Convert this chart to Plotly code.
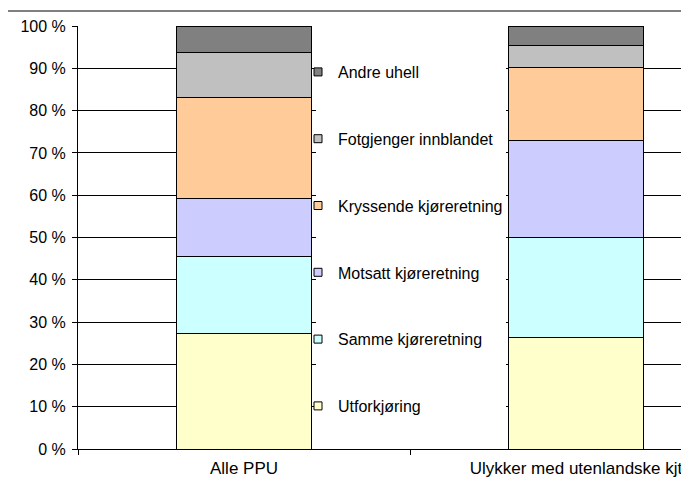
import plotly.graph_objects as go

categories = ["Alle PPU", "Ulykker med utenlandske kjt"]
series_names = ["Utforkjøring", "Samme kjøreretning", "Motsatt kjøreretning",
                "Kryssende kjøreretning", "Fotgjenger innblandet", "Andre uhell"]
utforkjoring = [27.4, 26.4]
samme = [18.2, 23.6]
motsatt = [13.7, 23.0]
kryssende = [23.7, 17.1]
fotgjenger = [10.8, 5.2]
andre = [6.2, 4.7]
series_values = [utforkjoring, samme, motsatt, kryssende, fotgjenger, andre]
colors = ["#FFFFCC", "#CCFFFF", "#CCCCFF", "#FFCC99", "#C0C0C0", "#808080"]
y_ticks = list(range(0, 101, 10))

FONT = "Liberation Sans, Arial, sans-serif"
fig = go.Figure()
for name, vals, col in zip(series_names, series_values, colors):
    fig.add_trace(go.Bar(x=categories, y=vals, name=name,
                         marker=dict(color=col, line=dict(color="black", width=1)),
                         showlegend=False))
# legend entries (top to bottom: last series first)
for name, col in list(zip(series_names, colors))[::-1]:
    fig.add_trace(go.Scatter(x=[None], y=[None], mode="markers", name=name, legendgroup=name,
                             marker=dict(symbol="square", size=8, color=col,
                                         line=dict(color="black", width=1))))

OFF = 8  # page body margin
W, H = 689 - OFF, 483 - OFF
L, R, T, B = 70, 0, 18, 34
pw, ph = W - L - R, H - T - B


def px2x(page_x):
    return (page_x - OFF - L) / pw


def py2y(page_y):
    return (H - B - (page_y - OFF)) / ph


fig.update_layout(
    width=W, height=H, margin=dict(l=L, r=R, t=T, b=B),
    paper_bgcolor="white", plot_bgcolor="white",
    barmode="stack", bargap=0.595,
    font=dict(family=FONT, size=16, color="black"),
    legend=dict(x=px2x(298), xanchor="left", y=py2y(55), yanchor="top",
                traceorder="grouped", tracegroupgap=43,
                bgcolor="rgba(0,0,0,0)", font=dict(size=16)),
    xaxis=dict(type="category", range=[-0.5, -0.5 + pw / 332], tickson="boundaries",
               ticks="outside", ticklen=5, tickcolor="black", showline=True, linecolor="black",
               showgrid=False, tickfont=dict(size=17), ticklabelstandoff=4),
    yaxis=dict(range=[0, 100], tickvals=y_ticks, ticktext=[f"{v} %" for v in y_ticks],
               ticks="outside", ticklen=5, tickcolor="black", showline=True, linecolor="black",
               showgrid=True, gridcolor="black", gridwidth=1, zeroline=False,
               ticklabelstandoff=3),
    shapes=[
        dict(type="rect", xref="paper", yref="paper", x0=px2x(316), x1=px2x(506),
             y0=0.004, y1=0.996, fillcolor="white", line=dict(width=0), layer="above"),
        dict(type="line", xref="paper", yref="paper", x0=px2x(8), x1=1,
             y0=py2y(11), y1=py2y(11), line=dict(color="black", width=1)),
    ],
)
fig.write_html("out.html")
